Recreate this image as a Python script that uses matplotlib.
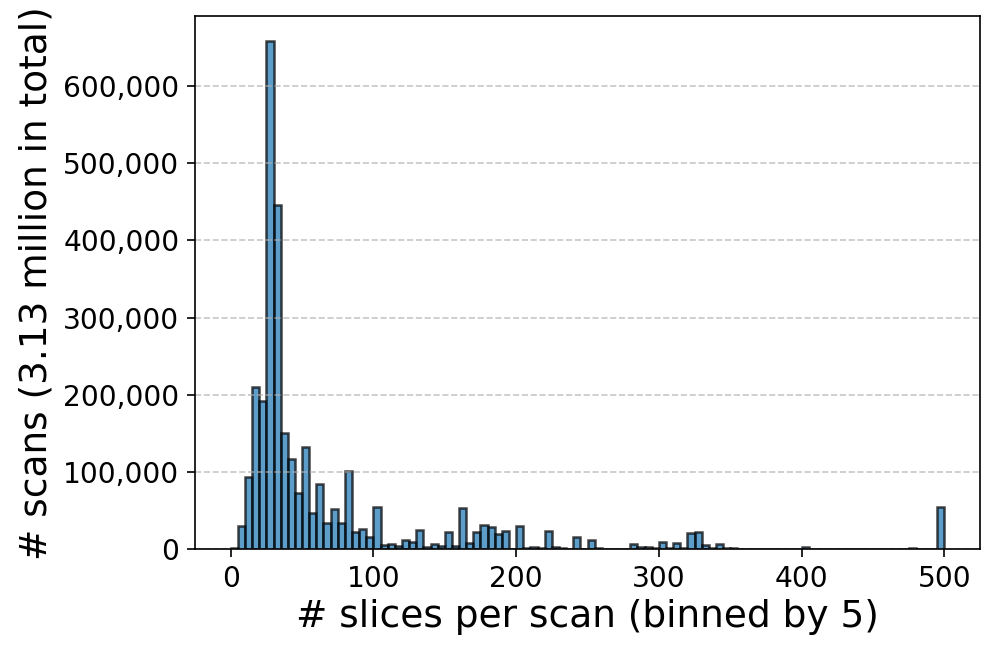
import numpy as np
import matplotlib
matplotlib.use("Agg")
import matplotlib.pyplot as plt
from matplotlib.ticker import FuncFormatter

# bin width 5, bins from 0 to 500
bin_width = 5
bin_starts = list(range(0, 500, bin_width))

counts = [
    1500, 30000, 94000, 210500, 191500, 657500, 446000, 150000, 117000, 73000,      # 0-50
    132500, 47000, 85000, 34000, 52000, 33500, 101500, 23000, 26000, 16000,         # 50-100
    54500, 5600, 7000, 4700, 11700, 9500, 24600, 2600, 7300, 3900,                  # 100-150
    22500, 4700, 53000, 8600, 22900, 31500, 29400, 19400, 24200, 1000,              # 150-200
    30200, 2200, 3500, 1300, 23300, 3500, 2200, 1000, 16000, 1000,                  # 200-250
    12100, 2000, 1000, 1000, 1000, 1000, 6500, 3500, 2600, 1700,                    # 250-300
    9900, 1700, 8600, 1700, 20700, 22000, 5200, 1700, 6500, 1700,                   # 300-350
    1500, 900, 800, 800, 700, 700, 700, 600, 600, 600,                              # 350-400
    3000, 700, 600, 500, 500, 500, 500, 500, 500, 500,                              # 400-450
    500, 500, 500, 500, 500, 2000, 500, 500, 500, 54500,                            # 450-500
]

x_label = "# slices per scan (binned by 5)"
y_label = "# scans (3.13 million in total)"

fig = plt.figure(figsize=(997 / 150, 656 / 150), dpi=150)
ax = fig.add_axes([0.1956, 0.1626, 0.7874, 0.813])

bins = np.arange(0, 500 + bin_width, bin_width)
ax.hist(bin_starts, bins=bins, weights=counts, color="#1f77b4",
        edgecolor="black", linewidth=1.2, alpha=0.72)

ax.yaxis.grid(True, linestyle="--", alpha=0.7)
ax.yaxis.set_major_formatter(FuncFormatter(lambda v, p: f"{int(v):,}"))
ax.set_xticks([0, 100, 200, 300, 400, 500])
ax.tick_params(axis="both", labelsize=13.5, length=4)
ax.set_xlabel(x_label, fontsize=18, labelpad=3)
ax.set_ylabel(y_label, fontsize=18, labelpad=4)

fig.savefig("out.png", dpi=150)
